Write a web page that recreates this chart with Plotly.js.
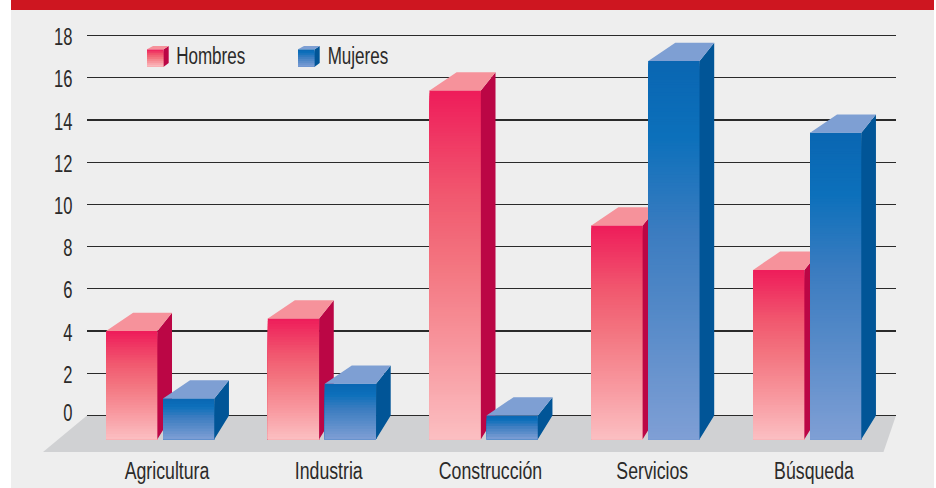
<!DOCTYPE html>
<html>
<head>
<meta charset="utf-8">
<script src="https://cdn.plot.ly/plotly-3.0.1.min.js"></script>
<style>html,body{margin:0;padding:0;background:#fff;}#chart{width:936px;height:488px;}</style>
</head>
<body>
<div id="chart"></div>
<script>
const categories = ["Agricultura", "Industria", "Construcción", "Servicios", "Búsqueda"];
const hombres = [4.0, 4.6, 15.4, 9.0, 6.9];
const mujeres = [0.8, 1.5, 0.0, 16.8, 13.4];
const yTicks = [0, 2, 4, 6, 8, 10, 12, 14, 16, 18];

const W = 936, H = 488;
const plot = {l: 87, r: 896, t: 27, b: 452};
const FONT = '"Liberation Sans", sans-serif';
const TXT = '#2b2a29';

// 3D look, in axis units
const barW = 0.317, hOff = -0.218, mOff = 0.134;
const sideDx = 0.0905, topDx = 0.167, topDy = 0.867, floorY = -1.13, backFloor = 0;
const hStops = [[0,[238,28,90]],[0.3,[241,88,111]],[0.5,[243,117,128]],[0.75,[248,152,159]],[1,[251,191,194]]];
const mStops = [[0,[10,102,178]],[0.2,[12,112,187]],[0.45,[59,124,192]],[0.65,[82,136,199]],[1,[127,159,213]]];

function mix(stops, t) {
  for (let i = 1; i < stops.length; i++) {
    if (t <= stops[i][0]) {
      const a = stops[i-1], b = stops[i], f = (t - a[0]) / (b[0] - a[0]);
      return 'rgb(' + a[1].map((c, k) => Math.round(c + (b[1][k] - c) * f)).join(',') + ')';
    }
  }
  return 'rgb(' + stops[stops.length-1][1].join(',') + ')';
}

function seriesTraces(name, values, off, stops, sideCol, topCol, xa, ya) {
  const xs = values.map((_, i) => i + off);
  const main = {type: 'bar', name, x: xs, y: values, width: barW, xaxis: xa, yaxis: ya,
    marker: {color: mix(stops, 0.5), line: {width: 0}}, showlegend: false, hoverinfo: 'y+name'};
  // gradient of the front face: nested bars from the floor up, palest painted last
  const gx = [], gb = [], gy = [], gc = [];
  values.forEach((v, i) => {
    const span = v - floorY, n = Math.max(8, Math.round(span * 8));
    for (let k = 0; k < n; k++) {
      gx.push(xs[i]);
      gb.push(floorY);
      gy.push(span * (1 - k / n));
      gc.push(mix(stops, (k + 0.5) / n));
    }
  });
  const grad = {type: 'bar', x: gx, y: gy, base: gb, width: barW, xaxis: xa, yaxis: ya,
    marker: {color: gc, line: {width: 0}}, showlegend: false, hoverinfo: 'skip'};
  const sx = [], sy = [], tx = [], ty = [];
  values.forEach((v, i) => {
    const L = xs[i] - barW / 2, R = xs[i] + barW / 2;
    sx.push(R, R + sideDx, R + sideDx, R, R, null);
    sy.push(v, v + topDy, backFloor, floorY, v, null);
    tx.push(L, L + topDx, R + sideDx, R, L, null);
    ty.push(v, v + topDy, v + topDy, v, v, null);
  });
  const face = (x, y, c) => ({type: 'scatter', mode: 'lines', x, y, xaxis: xa, yaxis: ya, fill: 'toself',
    fillcolor: c, line: {width: 0, color: c}, showlegend: false, hoverinfo: 'skip'});
  return [main, grad, face(sx, sy, sideCol), face(tx, ty, topCol)];
}

const data = [
  ...seriesTraces('Hombres', hombres, hOff, hStops, '#bb0645', '#f6929b', 'x', 'y'),
  ...seriesTraces('Mujeres', mujeres, mOff, mStops, '#015597', '#7e9fd3', 'x2', 'y2')
];

const PX = x => (x - plot.l) / (plot.r - plot.l);
const PY = y => (plot.b - y) / (plot.b - plot.t);
const rect = (x0, y0, x1, y1, c, layer) => ({type: 'rect', xref: 'paper', yref: 'paper', layer: layer || 'below',
  x0: PX(x0), x1: PX(x1), y0: PY(y0), y1: PY(y1), fillcolor: c, line: {width: 0}});
const poly = (pts, c, layer) => ({type: 'path', xref: 'paper', yref: 'paper', layer: layer || 'below',
  path: 'M' + pts.map(p => PX(p[0]) + ',' + PY(p[1])).join('L') + 'Z', fillcolor: c, line: {width: 0}});

const shapes = [
  rect(11, 10, 934, 488, '#eeeeee'),
  rect(11, 0, 934, 10, '#ce1620'),
  poly([[87, 415.5], [896, 415.5], [883.5, 452], [43, 452]], '#d0d1d3')
];

function cube(x, stops, side, top) {
  const xR = x + 16.7, y0 = 49.3, y1 = 66.7, n = 9;
  for (let k = 0; k < n; k++) {
    shapes.push(rect(x, y0 + (y1 - y0) * k / n, xR, y1, mix(stops, (k + 0.5) / n), 'above'));
  }
  shapes.push(poly([[xR, y0], [xR + 5, 46], [xR + 5, 63], [xR, y1]], side, 'above'));
  shapes.push(poly([[x, y0], [x + 6, 46], [xR + 5, 46], [xR, y0]], top, 'above'));
}
cube(147, hStops, '#bb0645', '#f6929b');
cube(298, mStops, '#015597', '#7e9fd3');

const legendNote = (text, x) => ({xref: 'paper', yref: 'paper', x: PX(x), y: PY(56), xanchor: 'left', yanchor: 'middle',
  text, showarrow: false, font: {family: FONT, size: 23, color: TXT}});

const xRange = [(plot.l - 167) / 161.75, (plot.r - 167) / 161.75];
const yRange = [-1.73, 18.41];

const layout = {
  width: W, height: H,
  margin: {l: plot.l, r: W - plot.r, t: plot.t, b: H - plot.b, pad: 0},
  paper_bgcolor: '#ffffff', plot_bgcolor: 'rgba(0,0,0,0)',
  barmode: 'overlay', showlegend: false,
  xaxis: {range: xRange, tickmode: 'array', tickvals: categories.map((_, i) => i), ticktext: categories,
    showgrid: false, zeroline: false, showline: false, ticks: '', ticklen: 0, ticklabelstandoff: 3,
    tickfont: {family: FONT, size: 23, color: TXT}, fixedrange: true},
  yaxis: {range: yRange, tickmode: 'array', tickvals: yTicks, ticktext: yTicks.map(String),
    showgrid: true, gridcolor: '#2a2a2a', gridwidth: 1.2, zeroline: false, showline: false,
    ticks: 'outside', ticklen: 9, tickcolor: 'rgba(0,0,0,0)',
    tickfont: {family: FONT, size: 23, color: TXT}, fixedrange: true},
  xaxis2: {range: xRange, overlaying: 'x', visible: false, fixedrange: true},
  yaxis2: {range: yRange, overlaying: 'y', visible: false, fixedrange: true},
  shapes,
  annotations: [legendNote('Hombres', 162), legendNote('Mujeres', 314.5)]
};

// The original uses a condensed face; squeeze the real text elements horizontally.
function condense(selector, k) {
  document.querySelectorAll(selector).forEach(t => {
    t.setAttribute('textLength', t.getComputedTextLength() * k);
    t.setAttribute('lengthAdjust', 'spacingAndGlyphs');
  });
}

Plotly.newPlot('chart', data, layout, {displayModeBar: false, staticPlot: true}).then(() => {
  condense('.xtick text', 0.77);
  condense('.ytick text', 0.72);
  condense('.annotation-text', 0.74);
  // the original's "0" label sits above its grid line, the others just below theirs
  document.querySelectorAll('.ytick text').forEach(t => {
    const v = parseFloat(t.textContent), y = parseFloat(t.getAttribute('y'));
    t.setAttribute('y', y + (v === 0 ? -3 : 1.5));
  });
});
</script>
</body>
</html>
